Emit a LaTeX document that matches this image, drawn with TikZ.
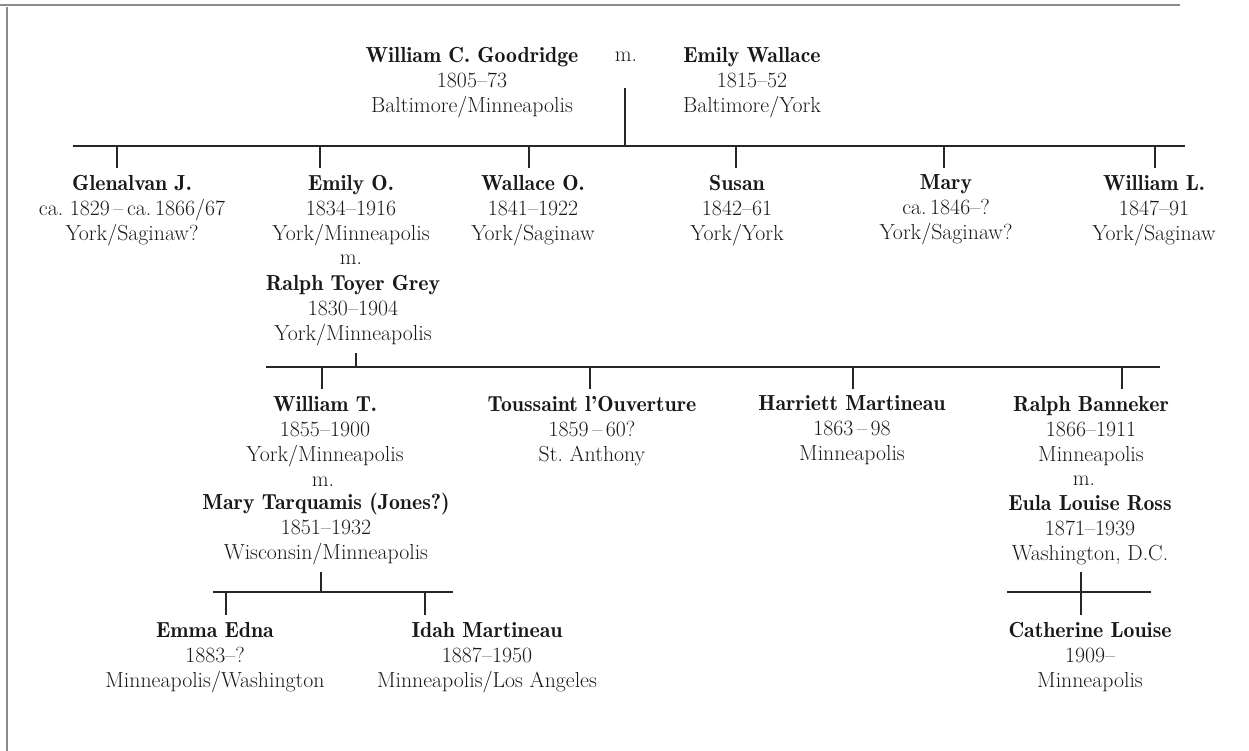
\documentclass[tikz,border=0pt]{standalone}
\usetikzlibrary{positioning}
\newcommand{\nm}[1]{{\fontseries{b}\selectfont #1}}
\tikzset{
  person/.style={anchor=north, align=center, inner sep=0pt, outer ysep=7pt,
    text=black!90, font=\fontsize{21.8}{25}\selectfont},
  wed/.style={anchor=base, inner sep=0pt, text=black!90, font=\fontsize{21.8}{25}\selectfont},
  bar/.style={line width=2.6pt, black!85},
  tick/.style={line width=2.2pt, black!85},
  stem/.style={line width=1.6pt, black!85},
  frame/.style={line width=2pt, black!45}
}
\begin{document}
\begin{tikzpicture}[x=1pt,y=-1pt]
  \useasboundingbox (0,0) rectangle (1249,751);
  % edge of the scanned page
  \draw[frame] (0,5) -- (1180,5);
  \draw[frame] (7,7) -- (7,751);

  % parents
  \node[person] (wcg) at (472,40) {\nm{William C. Goodridge}\\1805--73\\Baltimore/Minneapolis};
  \node[wed] (m0) at (626,62) {m.};
  \node[person] (ewal) at (752,40) {\nm{Emily Wallace}\\1815--52\\Baltimore/York};

  % children
  \node[person] (glen) at (132,168) {\nm{Glenalvan J.}\\ca.\ 1829\,--\,ca.\,1866/67\\York/Saginaw?};
  \node[person] (emo) at (351,168) {\nm{Emily O.}\\1834--1916\\York/Minneapolis};
  \node[wed] (m1) at (351,265) {m.};
  \node[person] (rtg) at (353,268) {\nm{Ralph Toyer Grey}\\1830--1904\\York/Minneapolis};
  \node[person] (wal) at (533,168) {\nm{Wallace O.}\\1841--1922\\York/Saginaw};
  \node[person] (sus) at (737,168) {\nm{Susan}\\1842--61\\York/York};
  \node[person] (mar) at (946,168) {\nm{Mary}\\ca.\,1846--?\\York/Saginaw?};
  \node[person] (wil) at (1154,168) {\nm{William L.}\\1847--91\\York/Saginaw};

  % grandchildren
  \node[person] (wt) at (325,389) {\nm{William T.}\\1855--1900\\York/Minneapolis};
  \node[wed] (m2) at (323,486) {m.};
  \node[person] (mtq) at (326,486.5) {\nm{Mary Tarquamis (Jones?)}\\1851--1932\\Wisconsin/Minneapolis};
  \node[person] (tous) at (592,389) {\nm{Toussaint l'Ouverture}\\1859\,--\,60?\\St.\ Anthony};
  \node[person] (harr) at (852,389) {\nm{Harriett Martineau}\\1863\,--\,98\\Minneapolis};
  \node[person] (rbb) at (1091,389) {\nm{Ralph Banneker}\\1866--1911\\Minneapolis};
  \node[wed] (m3) at (1084,485) {m.};
  \node[person] (eula) at (1090,488) {\nm{Eula Louise Ross}\\1871--1939\\Washington, D.C.};

  % great-grandchildren
  \node[person] (emma) at (215,615) {\nm{Emma Edna}\\1883--?\\Minneapolis/Washington};
  \node[person] (idah) at (487,615) {\nm{Idah Martineau}\\1887--1950\\Minneapolis/Los Angeles};
  \node[person] (cath) at (1090,615) {\nm{Catherine Louise}\\1909--\\Minneapolis};

  % bars
  \coordinate (b1w) at (73,146);   \coordinate (b1e) at (1185,146);
  \coordinate (b2w) at (266,367);  \coordinate (b2e) at (1160,367);
  \coordinate (b3w) at (213,592);  \coordinate (b3e) at (453,592);
  \coordinate (b4w) at (1007,592); \coordinate (b4e) at (1151,592);
  \foreach \n in {1,...,4}
    \draw[bar] (b\n w) -- (b\n e);

  % stems down from each couple
  \coordinate (s1) at (625,88);
  \draw[line width=1.1pt, black!85] (s1) -- (s1 |- b1w);
  \coordinate (s2) at (356,367);
  \draw[stem] (s2 |- rtg.south) -- (s2);
  \coordinate (s3) at (321,592);
  \draw[stem] (s3 |- mtq.south) -- (s3);
  \coordinate (s4) at (1081,592);
  \draw[stem] (s4 |- eula.south) -- (s4 |- cath.north);

  % ticks down to each child
  \foreach \x/\n in {117/glen,320/emo,529/wal,736/sus,944/mar,1155/wil}{
    \coordinate (k\n) at (\x,146);
    \draw[tick] (k\n) -- (k\n |- \n.north);
  }
  \foreach \x/\n in {322/wt,590/tous,853/harr,1122/rbb}{
    \coordinate (k\n) at (\x,367);
    \draw[tick] (k\n) -- (k\n |- \n.north);
  }
  \foreach \x/\n in {226/emma,425/idah}{
    \coordinate (k\n) at (\x,592);
    \draw[tick] (k\n) -- (k\n |- \n.north);
  }
\end{tikzpicture}
\end{document}
